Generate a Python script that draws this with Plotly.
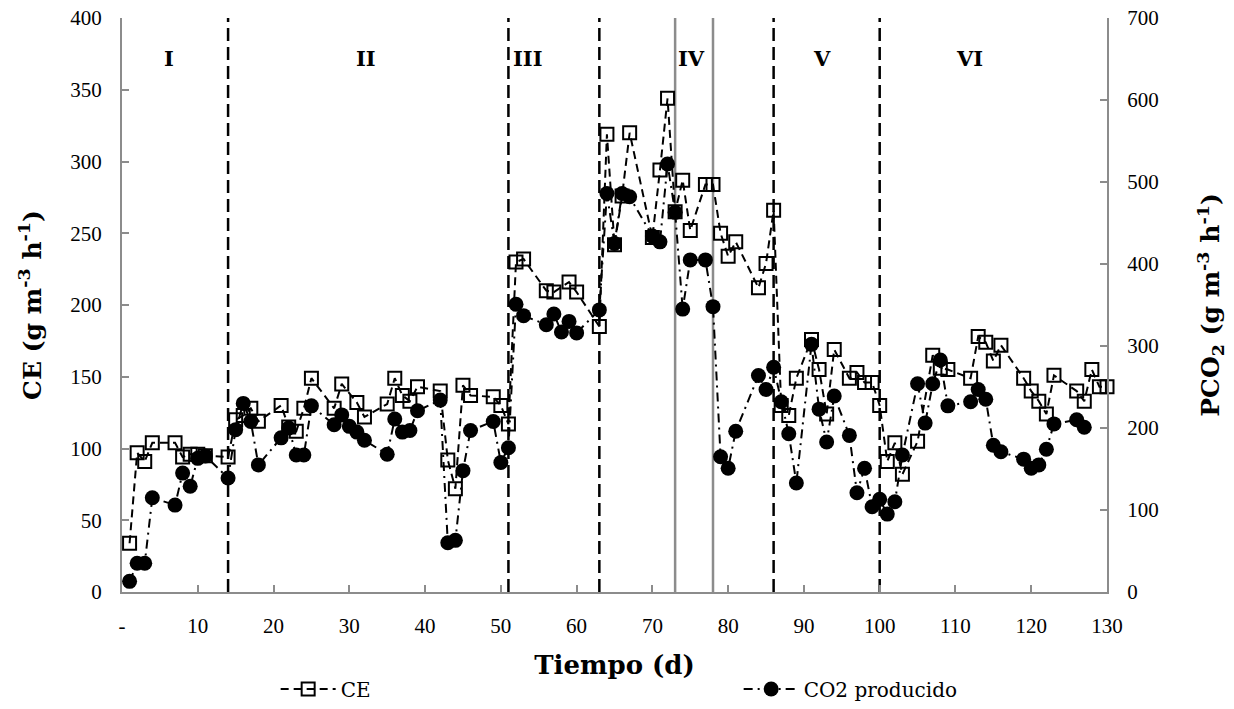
import plotly.graph_objects as go
from plotly.subplots import make_subplots

# ---- data ----
days_ce = [1,2,3,4,7,8,9,10,11,14,15,16,17,18,21,22,23,24,25,28,29,31,32,35,36,37,38,39,42,43,
           44,45,46,49,50,51,52,53,56,57,59,60,63,64,65,66,67,70,71,72,73,74,75,77,78,79,80,81,84,85,
           86,87,88,89,91,92,93,94,96,97,98,99,100,101,102,103,105,107,108,109,112,113,114,115,116,
           119,120,121,122,123,126,127,128,129,130]
ce = [34,97,91,104,104,94,96,96,95,94,120,123,128,119,130,115,112,128,149,128,145,132,122,131,149,137,133,143,140,92,
      72,144,137,136,130,117,230,232,210,209,216,209,185,319,242,276,320,247,294,344,265,287,252,284,284,250,234,244,212,229,
      266,130,123,149,176,155,124,169,149,153,146,146,130,91,104,82,105,165,156,155,149,178,174,161,172,
      149,140,133,124,151,140,133,155,143,143]

days_co2 = [1,2,3,4,7,8,9,10,11,14,15,16,17,18,21,22,23,24,25,28,29,30,31,32,35,36,37,38,39,42,
            43,44,45,46,49,50,51,52,53,56,57,58,59,60,63,64,65,66,67,70,71,72,73,74,75,77,78,79,80,81,
            84,85,86,87,88,89,91,92,93,94,96,97,98,99,100,101,102,103,105,106,107,108,109,112,113,114,115,116,
            119,120,121,122,123,126,127]
co2 = [13,35,35,115,106,145,129,163,166,139,198,230,208,155,188,200,167,167,227,204,216,202,195,185,168,211,195,197,221,234,
       60,63,148,197,208,158,176,351,337,326,339,317,330,316,344,486,425,486,482,434,427,522,463,345,405,405,348,165,151,196,
       264,247,274,232,193,133,302,223,183,239,191,121,151,104,113,95,110,167,254,206,254,283,227,232,247,235,179,171,
       162,151,155,174,205,210,201]

phase_dashed = [14, 51, 63, 86, 100]
phase_gray = [73, 78]
phase_labels = ["I", "II", "III", "IV", "V", "VI"]
phase_label_x = [6.2, 32.2, 53.5, 75.2, 92.4, 111.8]

x_tickvals = list(range(0, 131, 10))
x_ticktext = ["-"] + [str(v) for v in x_tickvals[1:]]

FONT = "Liberation Serif"
TFONT = "DejaVu Serif"
AXC = "#8c8c8c"

fig = make_subplots(specs=[[{"secondary_y": True}]])

fig.add_trace(go.Scatter(
    x=days_ce, y=ce, name="CE", mode="lines+markers",
    line=dict(color="black", width=2, dash="8px,5px"),
    marker=dict(symbol="square-open", size=13, color="black", line=dict(width=2)),
    cliponaxis=False), secondary_y=False)

fig.add_trace(go.Scatter(
    x=days_co2, y=co2, name="CO2 producido", mode="lines+markers",
    line=dict(color="black", width=2, dash="9px,5px,2px,5px"),
    marker=dict(symbol="circle", size=15, color="black"),
    cliponaxis=False), secondary_y=True)

shapes = []
for d in phase_dashed:
    shapes.append(dict(type="line", xref="x", yref="paper", x0=d, x1=d, y0=0, y1=1,
                       line=dict(color="black", width=2.5, dash="13px,6px"), layer="below"))
for d in phase_gray:
    shapes.append(dict(type="line", xref="x", yref="paper", x0=d, x1=d, y0=0, y1=1,
                       line=dict(color="#8c8c8c", width=2.5), layer="below"))

annotations = [dict(x=xv, y=0.955, xref="x", yref="paper", text="<b>%s</b>" % lab,
                    showarrow=False, font=dict(family=TFONT, size=21, color="black"))
               for xv, lab in zip(phase_label_x, phase_labels)]

fig.update_layout(
    width=1234, height=709,
    margin=dict(l=122, r=127, t=18, b=117, autoexpand=False),
    plot_bgcolor="white", paper_bgcolor="white",
    font=dict(family=FONT, size=21, color="black"),
    shapes=shapes, annotations=annotations,
    showlegend=True,
    legend=dict(orientation="h", x=0.156, xanchor="left", y=-0.135, yanchor="top",
                font=dict(family=TFONT, size=20), entrywidth=393, entrywidthmode="pixels",
                itemwidth=55, bgcolor="rgba(0,0,0,0)"),
)

fig.update_xaxes(range=[0, 130], domain=[0, 1], tickvals=x_tickvals, ticktext=x_ticktext, automargin=False,
                 showgrid=False, zeroline=False, showline=True, linecolor=AXC, linewidth=2,
                 ticks="inside", ticklen=7, tickcolor=AXC, tickwidth=1.5,
                 ticklabelstandoff=14,
                 title=dict(text="<b>Tiempo (d)</b>", font=dict(family=TFONT, size=26), standoff=19))

fig.update_yaxes(range=[0, 400], dtick=50, secondary_y=False, automargin=False,
                 showgrid=False, zeroline=False, showline=True, linecolor=AXC, linewidth=2,
                 ticks="inside", ticklen=7, tickcolor=AXC, tickwidth=1.5, ticklabelstandoff=14,
                 title=dict(text="<b>CE (g m<sup>-3</sup> h<sup>-1</sup>)</b>",
                            font=dict(family=TFONT, size=25), standoff=22))

fig.update_yaxes(range=[0, 700], dtick=100, secondary_y=True, automargin=False,
                 showgrid=False, zeroline=False, showline=True, linecolor=AXC, linewidth=2,
                 ticks="inside", ticklen=7, tickcolor=AXC, tickwidth=1.5, ticklabelstandoff=14,
                 title=dict(text="<b>PCO<sub>2</sub> (g m<sup>-3</sup> h<sup>-1</sup>)</b>",
                            font=dict(family=TFONT, size=25), standoff=44))

fig.write_html("out.html")
